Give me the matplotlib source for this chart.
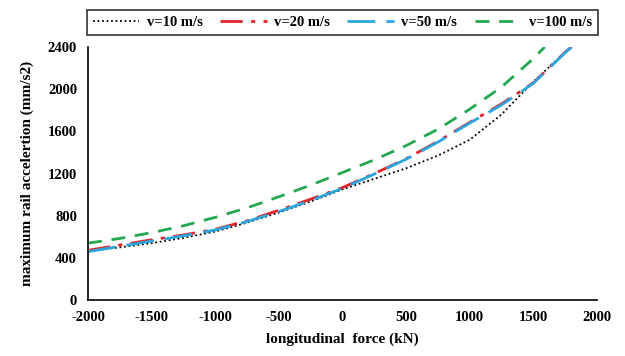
import matplotlib
matplotlib.use("Agg")
import matplotlib.pyplot as plt

# longitudinal force (kN) and max rail acceleration (mm/s2)
force = [-2000, -1750, -1500, -1250, -1000, -750, -500, -250, 0,
         250, 500, 750, 1000, 1250, 1500, 1750, 1800]
acc_v10 = [465, 500, 540, 590, 650, 735, 830, 935, 1050,
           1150, 1250, 1370, 1520, 1760, 2070, 2350, 2400]
acc_v20 = [472, 522, 572, 618, 672, 752, 852, 957, 1067,
           1200, 1340, 1505, 1685, 1860, 2060, 2350, 2400]
acc_v50 = [460, 510, 560, 610, 665, 745, 840, 945, 1060,
           1195, 1335, 1498, 1678, 1850, 2055, 2345, 2400]
force_v100 = [-2000, -1750, -1500, -1250, -1000, -750, -500, -250, 0,
              250, 500, 750, 1000, 1250, 1500, 1590]
acc_v100 = [540, 585, 640, 705, 785, 875, 980, 1090, 1210,
            1330, 1465, 1620, 1810, 2020, 2290, 2400]

labels = ['v=10 m/s', 'v=20 m/s', 'v=50 m/s', 'v=100 m/s']

plt.rcParams['font.family'] = 'Liberation Serif'
plt.rcParams['font.weight'] = 'bold'
plt.rcParams['axes.unicode_minus'] = False

fig = plt.figure(figsize=(6.25, 3.56), dpi=100)
ax = fig.add_axes([0.141, 0.157, 0.814, 0.711])

ax.plot(force, acc_v10, color='black', linestyle=(0, (1, 1.5)), lw=1.3, label=labels[0])
ax.plot(force, acc_v20, color='#E3242B', linestyle=(0, (8, 3, 1.5, 3)), lw=2, label=labels[1])
ax.plot(force, acc_v50, color='#2AA6DE', linestyle=(0, (10, 4)), lw=2, label=labels[2])
ax.plot(force_v100, acc_v100, color='#22A84E', linestyle=(0, (5, 3.5)), lw=2, label=labels[3])

ax.set_xlim(-2000, 2000)
ax.set_ylim(0, 2400)
ax.set_xticks(range(-2000, 2001, 500))
ax.set_yticks(range(0, 2401, 400))
ax.tick_params(length=0, labelsize=10.5, pad=8)
for s in ['top', 'right']:
    ax.spines[s].set_visible(False)
ax.spines['left'].set_linewidth(1.2)
ax.spines['bottom'].set_linewidth(1.2)

ax.set_xlabel('longitudinal  force (kN)', fontsize=11, fontweight='bold', labelpad=6)
ax.set_ylabel('maximum rail accelertion (mm/s2)', fontsize=11, fontweight='bold', labelpad=10)

leg = fig.legend(loc='lower left', bbox_to_anchor=(0.139, 0.902, 0.817, 0.075),
                 ncol=4, mode='expand', frameon=True, fancybox=False,
                 edgecolor='black', fontsize=10.5, handlelength=3.2,
                 borderaxespad=0, handletextpad=0.5)
leg.get_frame().set_linewidth(1.2)

fig.savefig('out.png', dpi=100)
